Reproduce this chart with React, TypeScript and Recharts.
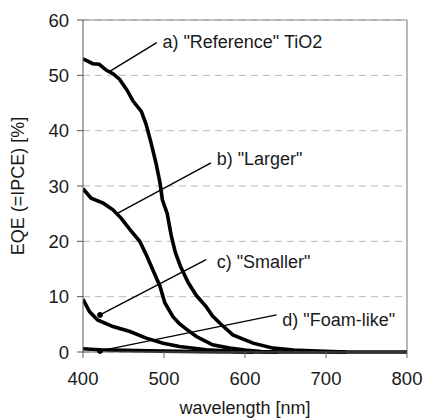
import React from 'react';
import { LineChart, Line, XAxis, YAxis, CartesianGrid, ReferenceLine, ReferenceDot } from 'recharts';

const xTicks = [400, 500, 600, 700, 800];
const yTicks = [0, 10, 20, 30, 40, 50, 60];

// a) "Reference" TiO2
const refWl = [400, 412, 420, 429, 437, 445, 454, 462, 472, 478, 484, 490, 495, 498, 504, 509, 514, 520, 530, 540, 552, 560, 569, 585, 600, 610, 635, 660, 690, 725];
const refEqe = [53, 52.1, 52, 50.9, 50.3, 49.3, 47.4, 45.3, 43.5, 41.1, 37.8, 34.2, 30.6, 27.5, 25, 21, 18, 15.6, 12.5, 10.2, 8.2, 6.5, 5.2, 3.1, 2.2, 1.6, 0.7, 0.35, 0.15, 0];

// b) "Larger"
const largerWl = [400, 410, 425, 437, 447, 458, 470, 478, 486, 495, 501, 511, 519, 528, 540, 548, 560, 581, 600, 620, 640];
const largerEqe = [29.5, 27.8, 26.9, 25.7, 24.2, 22.1, 20, 17.6, 14.9, 11.9, 8.9, 6.4, 5.1, 4.1, 2.8, 2.2, 1.3, 0.7, 0.35, 0.1, 0];

// c) "Smaller"
const smallerWl = [400, 408, 418, 437, 458, 478, 499, 519, 552, 580, 610];
const smallerEqe = [9.5, 7.3, 5.8, 4.6, 3.7, 2.5, 1.6, 1.0, 0.4, 0.15, 0];

// d) "Foam-like"
const foamWl = [400, 420, 450, 500, 550, 600, 800];
const foamEqe = [0.6, 0.4, 0.3, 0.15, 0.05, 0, 0];

const labelText = ['a) "Reference" TiO2', 'b) "Larger"', 'c) "Smaller"', 'd) "Foam-like"'];
const labelAt = [
  { x: 498, y: 56.0 },
  { x: 565, y: 34.8 },
  { x: 565, y: 16.3 },
  { x: 646, y: 5.8 },
];
const leaderFrom = [
  { x: 491, y: 55.9 },
  { x: 558, y: 34.2 },
  { x: 552, y: 16.7 },
  { x: 639, y: 6.7 },
];
const leaderTo = [
  { x: 433, y: 50.7 },
  { x: 443, y: 25.1 },
  { x: 421, y: 6.7 },
  { x: 421, y: 0.2 },
];
const dotted = [false, false, true, true];

const toPoints = (wl: number[], v: number[]) => wl.map((w, i) => ({ wl: w, eqe: v[i] }));
const series = [
  toPoints(refWl, refEqe),
  toPoints(largerWl, largerEqe),
  toPoints(smallerWl, smallerEqe),
  toPoints(foamWl, foamEqe),
];

const font = '"Liberation Sans", Arial, sans-serif';
const textColor = '#1a1a1a';

const YTitle = (props: any) => {
  const vb = props.viewBox || { x: 8, y: 20, width: 75, height: 332 };
  const cx = vb.x + 9.5;
  const cy = vb.y + vb.height / 2;
  return (
    <text x={cx} y={cy} transform={`rotate(-90 ${cx} ${cy})`} textAnchor="middle" dominantBaseline="central"
      fontFamily={font} fontSize={18} fill={textColor}>
      EQE (=IPCE) [%]
    </text>
  );
};

const XTitle = (props: any) => {
  const vb = props.viewBox || { x: 83, y: 352, width: 324, height: 60 };
  return (
    <text x={vb.x + vb.width / 2} y={vb.y + 62} textAnchor="middle"
      fontFamily={font} fontSize={18} fill={textColor}>
      wavelength [nm]
    </text>
  );
};

export default function App() {
  return (
    <div style={{ position: 'absolute', left: 0, top: 0, width: 426, height: 420 }}>
      <LineChart width={426} height={420} margin={{ top: 20, right: 19, bottom: 8, left: 8 }}>
        <CartesianGrid vertical={false} stroke="#b8b8b8" strokeDasharray="7 5" />
        <XAxis
          type="number"
          dataKey="wl"
          domain={[400, 800]}
          ticks={xTicks}
          allowDataOverflow
          height={60}
          stroke="#666"
          tickSize={6}
          tickMargin={14}
          tick={{ fontFamily: font, fontSize: 18.5, fill: textColor }}
          label={<XTitle />}
        />
        <YAxis
          type="number"
          domain={[0, 60]}
          ticks={yTicks}
          width={75}
          stroke="#555"
          tickSize={6}
          tickMargin={8}
          tick={{ fontFamily: font, fontSize: 18.5, fill: textColor }}
          label={<YTitle />}
        />
        <ReferenceLine y={60} stroke="#888" strokeWidth={1.2} />
        <ReferenceLine x={800} stroke="#888" strokeWidth={1.2} />
        {series.map((pts, i) => (
          <Line
            key={i}
            data={pts}
            dataKey="eqe"
            type="linear"
            stroke="#000"
            strokeWidth={3.6}
            dot={false}
            activeDot={false}
            isAnimationActive={false}
          />
        ))}
        {labelText.map((t, i) => (
          <ReferenceLine
            key={'l' + i}
            segment={[leaderFrom[i], leaderTo[i]]}
            stroke="#000"
            strokeWidth={1.4}
            ifOverflow="visible"
          />
        ))}
        {labelText.map((t, i) =>
          dotted[i] ? (
            <ReferenceDot key={'d' + i} x={leaderTo[i].x} y={leaderTo[i].y} r={2.5} fill="#000" stroke="#000" ifOverflow="visible" />
          ) : null
        )}
        {labelText.map((t, i) => (
          <ReferenceDot
            key={'t' + i}
            x={labelAt[i].x}
            y={labelAt[i].y}
            ifOverflow="visible"
            shape={(p: any) => (
              <text x={p.cx} y={p.cy} dominantBaseline="central" fontFamily={font} fontSize={18} fill={textColor}>
                {t}
              </text>
            )}
          />
        ))}
      </LineChart>
    </div>
  );
}
